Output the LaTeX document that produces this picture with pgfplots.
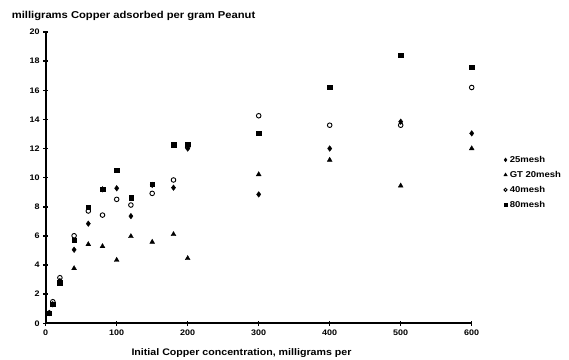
\documentclass[border=0pt]{standalone}
\usepackage{fontspec}
\setmainfont{Liberation Sans}
\newfontfamily\wide[FakeStretch=1.12]{Liberation Sans}
\usepackage{pgfplots}
\pgfplotsset{compat=1.18}
\begin{document}
\begin{tikzpicture}
\begin{axis}[
  at={(0,0)}, anchor=south west,
  scale only axis, width=426bp, height=291.3bp,
  xmin=0, xmax=600, ymin=0, ymax=20,
  axis lines=left,
  axis line style={-, line width=2bp, black},
  xtick={0,100,...,600}, ytick={0,2,...,20},
  tick align=center, major tick length=5bp,
  tick style={line width=1.5bp, black},
  /pgf/number format/assume math mode=true,
  ticklabel style={font=\wide\fontsize{8bp}{9bp}\selectfont\bfseries},
  xticklabel style={yshift=-1bp},
  legend style={at={(1.068,0.585)}, anchor=north west, draw=none, fill=none,
    font=\wide\fontsize{8.5bp}{10bp}\selectfont\bfseries, row sep=5.3bp,
    legend cell align=left, nodes={inner xsep=2.5bp, inner ysep=1bp}},
  legend image code/.code={\draw[#1] plot coordinates {(0bp,0bp)};},
  legend image post style={scale=0.7},
  clip=false,
]
\addplot[only marks, mark=diamond*, mark size=2.8bp, black] coordinates {
(5,0.7) (10,1.3) (20,2.9) (40,5.05) (60,6.84) (80,9.2) (100,9.27) (120,7.36) (150,9.5) (180,9.31) (200,12.0) (300,8.85) (400,12.0) (500,13.84) (600,13.04)};
\addlegendentry{25mesh}
\addplot[only marks, mark=triangle*, mark size=2.8bp, black] coordinates {
(5,0.7) (10,1.3) (20,2.8) (40,3.77) (60,5.42) (80,5.28) (100,4.34) (120,5.97) (150,5.58) (180,6.11) (200,4.46) (300,10.22) (400,11.21) (500,9.44) (600,12.0)};
\addlegendentry{GT 20mesh}
\addplot[only marks, mark=o, mark size=2.3bp, line width=0.9pt, black] coordinates {
(5,0.7) (10,1.48) (20,3.13) (40,6.01) (60,7.71) (80,7.43) (100,8.51) (120,8.12) (150,8.92) (180,9.84) (200,12.1) (300,14.25) (400,13.6) (500,13.6) (600,16.19)};
\addlegendentry{40mesh}
\addplot[only marks, mark=square*, mark size=2.2bp, black] coordinates {
(5,0.7) (10,1.32) (20,2.79) (40,5.72) (60,7.96) (80,9.2) (100,10.52) (120,8.62) (150,9.54) (180,12.27) (200,12.3) (300,13.04) (400,16.19) (500,18.4) (600,17.57)};
\addlegendentry{80mesh}
\end{axis}
\node[anchor=west, inner sep=0pt, font=\wide\fontsize{10bp}{11bp}\selectfont\bfseries] at (-34bp,307.5bp) {milligrams Copper adsorbed per gram Peanut};
\node[inner sep=0pt, font=\wide\fontsize{9.5bp}{10bp}\selectfont\bfseries] at (195.8bp,-29.7bp) {Initial Copper concentration, milligrams per};
\pgfresetboundingbox
\path[use as bounding box] (-45.7bp,-36.7bp) rectangle (523.3bp,323.3bp);
\end{tikzpicture}
\end{document}
